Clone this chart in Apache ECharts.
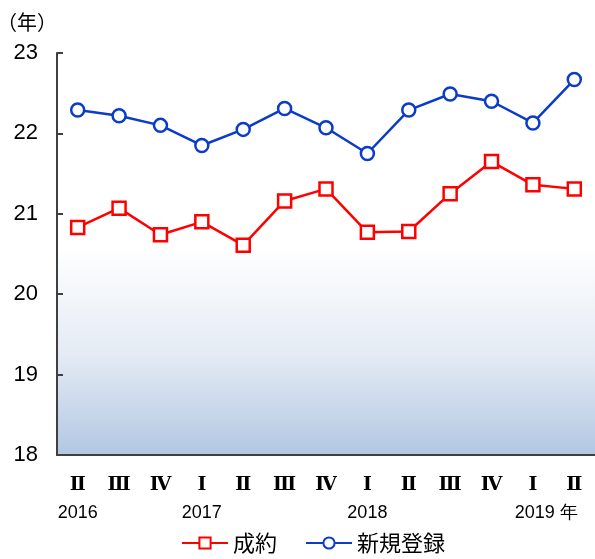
<!DOCTYPE html>
<html>
<head>
<meta charset="utf-8">
<script src="https://cdn.jsdelivr.net/npm/echarts@6/dist/echarts.min.js"></script>
<style>
  html, body { margin: 0; padding: 0; background: #ffffff; }
  #main { width: 595px; height: 559px; }
</style>
</head>
<body>
<div id="main"></div>
<script>
// 四半期ラベル
var quarters = ['Ⅱ', 'Ⅲ', 'Ⅳ', 'Ⅰ', 'Ⅱ', 'Ⅲ', 'Ⅳ', 'Ⅰ', 'Ⅱ', 'Ⅲ', 'Ⅳ', 'Ⅰ', 'Ⅱ'];
var years = ['2016', '', '', '2017', '', '', '', '2018', '', '', '', '', '2019 年'];
// 成約
var seiyaku = [20.83, 21.07, 20.74, 20.90, 20.61, 21.16, 21.31, 20.77, 20.78, 21.25, 21.65, 21.36, 21.31];
// 新規登録
var shinki = [22.29, 22.22, 22.10, 21.85, 22.05, 22.31, 22.07, 21.75, 22.29, 22.49, 22.40, 22.13, 22.67];

var font = "'Noto Sans CJK JP', sans-serif";
var numFont = "'Liberation Sans', Arial, sans-serif";
var categories = quarters.map(function (q, i) { return i; });

var chartDom = document.getElementById('main');
var myChart = echarts.init(chartDom);
var option = {
  animation: false,
  textStyle: { fontFamily: font },
  title: {
    text: '（年）',
    left: -8,
    top: 7,
    textStyle: { fontSize: 20, fontWeight: 'normal', color: '#000', fontFamily: font }
  },
  grid: {
    left: 57,
    right: -1,
    top: 53,
    bottom: 104,
    show: true,
    borderWidth: 0,
    backgroundColor: {
      type: 'linear', x: 0, y: 0, x2: 0, y2: 1,
      colorStops: [
        { offset: 0, color: '#ffffff' },
        { offset: 0.48, color: '#ffffff' },
        { offset: 0.75, color: '#e4ebf4' },
        { offset: 1, color: '#b2c7e3' }
      ]
    }
  },
  legend: {
    bottom: 0,
    left: 176,
    itemWidth: 46,
    itemHeight: 14,
    itemGap: 28,
    textStyle: { fontSize: 22, color: '#000', fontFamily: font },
    data: ['成約', '新規登録']
  },
  xAxis: {
    type: 'category',
    data: categories,
    boundaryGap: true,
    axisLine: { lineStyle: { color: '#404040', width: 2 } },
    axisTick: { inside: true, length: 6, lineStyle: { color: '#404040', width: 2 } },
    axisLabel: {
      interval: 0,
      margin: 17,
      formatter: function (v, i) {
        var y = years[i];
        var s = '{q|' + quarters[i] + '}\n';
        if (i === years.length - 1) return s + '{yl|' + y + '}';
        return s + '{y|' + (y || ' ') + '}';
      },
      rich: {
        q: { fontFamily: "'DejaVu Serif', serif", fontWeight: 'bold', fontSize: 19, color: '#000', height: 27 },
        y: { fontFamily: numFont, fontSize: 18, color: '#000', height: 28 },
        yl: { fontFamily: numFont, fontSize: 18, color: '#000', height: 28, padding: [0, 56, 0, 0] }
      }
    }
  },
  yAxis: {
    type: 'value',
    min: 18,
    max: 23,
    interval: 1,
    splitLine: { show: false },
    axisLine: { show: true, lineStyle: { color: '#404040', width: 2 } },
    axisTick: { show: true, inside: true, length: 6, lineStyle: { color: '#404040', width: 2 } },
    axisLabel: { fontSize: 22, color: '#000', margin: 19, fontFamily: numFont }
  },
  series: [
    {
      name: '成約',
      type: 'line',
      data: seiyaku,
      symbol: 'rect',
      symbolSize: 13,
      lineStyle: { color: '#ff0000', width: 2.5 },
      itemStyle: { color: '#ffffff', borderColor: '#ff0000', borderWidth: 2.5 },
      z: 3
    },
    {
      name: '新規登録',
      type: 'line',
      data: shinki,
      symbol: 'circle',
      symbolSize: 13,
      lineStyle: { color: '#0a3cc8', width: 2.5 },
      itemStyle: { color: '#ffffff', borderColor: '#0a3cc8', borderWidth: 2.5 },
      z: 3
    }
  ]
};
myChart.setOption(option);
</script>
</body>
</html>
